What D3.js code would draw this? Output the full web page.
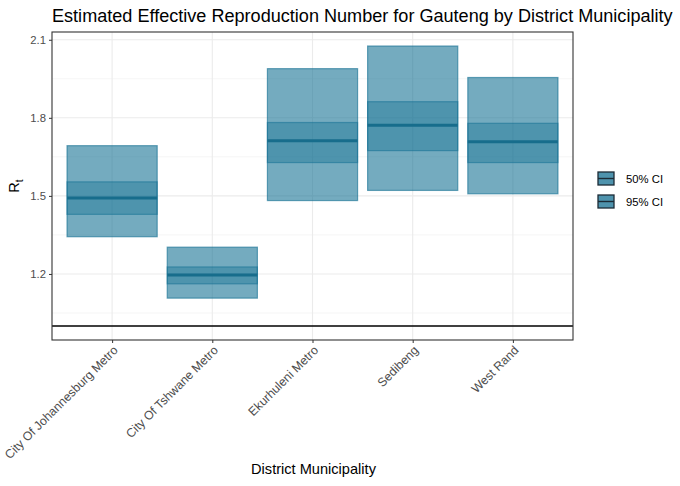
<!DOCTYPE html>
<html><head><meta charset="utf-8">
<script src="https://cdn.jsdelivr.net/npm/d3@7"></script>
<style>body{margin:0;background:#fff;} svg{display:block;font-family:"Liberation Sans",Arial,sans-serif;}</style>
</head><body><svg id="c" width="680" height="486"></svg>
<script>
const categories = ["City Of Johannesburg Metro","City Of Tshwane Metro","Ekurhuleni Metro","Sedibeng","West Rand"];
const median = [1.492, 1.196, 1.712, 1.771, 1.708];
const lower95 = [1.343, 1.107, 1.482, 1.521, 1.508];
const upper95 = [1.693, 1.303, 1.989, 2.076, 1.955];
const lower50 = [1.429, 1.162, 1.628, 1.674, 1.628];
const upper50 = [1.554, 1.227, 1.782, 1.862, 1.779];
const yTicks = [1.2, 1.5, 1.8, 2.1];
const yMinor = [1.05, 1.35, 1.65, 1.95];
const refLine = 1;
const legendLabels = ["50% CI", "95% CI"];

const svg = d3.select("#c");
const L = 52, R = 573, T = 32, B = 340;
const yLo = 1.0, yHi = 2.076, ex = (yHi - yLo) * 0.05;
const y = d3.scaleLinear().domain([yLo - ex, yHi + ex]).range([B, T]);
const xs = d3.scalePoint().domain(categories).range([L + (R - L) * 0.6 / 5.2, R - (R - L) * 0.6 / 5.2]);
const bw = (R - L) / 5.2 * 0.9;

const g = svg.append("g");
yMinor.forEach(v => g.append("line").attr("x1", L).attr("x2", R).attr("y1", y(v)).attr("y2", y(v)).attr("stroke", "#f3f3f3").attr("stroke-width", 0.8));
yTicks.forEach(v => g.append("line").attr("x1", L).attr("x2", R).attr("y1", y(v)).attr("y2", y(v)).attr("stroke", "#ebebeb").attr("stroke-width", 1.1));
categories.forEach(c => g.append("line").attr("x1", xs(c)).attr("x2", xs(c)).attr("y1", T).attr("y2", B).attr("stroke", "#ebebeb").attr("stroke-width", 1.1));

categories.forEach((c, i) => {
  g.append("rect").attr("x", xs(c) - bw / 2).attr("width", bw)
    .attr("y", y(upper95[i])).attr("height", y(lower95[i]) - y(upper95[i]))
    .attr("fill", "rgb(16,110,145)").attr("fill-opacity", 0.58)
    .attr("stroke", "rgb(16,110,145)").attr("stroke-opacity", 0.6).attr("stroke-width", 1.2);
});
categories.forEach((c, i) => {
  g.append("rect").attr("x", xs(c) - bw / 2).attr("width", bw)
    .attr("y", y(upper50[i])).attr("height", y(lower50[i]) - y(upper50[i]))
    .attr("fill", "rgb(16,110,145)").attr("fill-opacity", 0.38)
    .attr("stroke", "rgb(16,110,145)").attr("stroke-opacity", 0.5).attr("stroke-width", 1.2);
});
categories.forEach((c, i) => {
  g.append("line").attr("x1", xs(c) - bw / 2).attr("x2", xs(c) + bw / 2)
    .attr("y1", y(median[i])).attr("y2", y(median[i]))
    .attr("stroke", "#176d8c").attr("stroke-width", 3);
});
g.append("line").attr("x1", L).attr("x2", R).attr("y1", y(refLine)).attr("y2", y(refLine)).attr("stroke", "#000").attr("stroke-width", 1.3);
g.append("rect").attr("x", L).attr("y", T).attr("width", R - L).attr("height", B - T).attr("fill", "none").attr("stroke", "#333333").attr("stroke-width", 1.1);

const ya = svg.append("g").attr("transform", `translate(${L},0)`)
  .call(d3.axisLeft(y).tickValues(yTicks).tickFormat(d3.format(".1f")).tickSize(3).tickPadding(3));
ya.select(".domain").remove();
ya.selectAll("line").attr("stroke", "#333");
ya.selectAll("text").attr("fill", "#4d4d4d").style("font-size", "11.3px").style("font-family", "Liberation Sans, Arial");
const xa = svg.append("g").attr("transform", `translate(0,${B})`)
  .call(d3.axisBottom(xs).tickSize(3).tickPadding(3));
xa.select(".domain").remove();
xa.selectAll("line").attr("stroke", "#333");
xa.selectAll("text").attr("fill", "#4d4d4d").style("font-size", "12.3px").style("font-family", "Liberation Sans, Arial")
  .attr("text-anchor", "end").attr("dy", null).attr("y", 0)
  .attr("transform", "translate(6,11) rotate(-45)");

const title = svg.append("text").attr("x", L).attr("y", 22).attr("fill", "#000")
  .style("font-size", "17px").text("Estimated Effective Reproduction Number for Gauteng by District Municipality");
const tw = title.node().getComputedTextLength();
title.style("font-size", (17 * 621 / tw) + "px");

svg.append("text").attr("x", (L + R) / 2 + 1).attr("y", 474).attr("text-anchor", "middle").style("font-size", "14.6px").text("District Municipality");
const yl = svg.append("text").attr("transform", `translate(19,${(T + B) / 2}) rotate(-90)`).attr("text-anchor", "middle").style("font-size", "14.6px");
yl.append("tspan").text("R");
yl.append("tspan").attr("dy", 4).style("font-size", "10px").text("t");

legendLabels.forEach((lab, i) => {
  const ly = 172 + i * 23;
  const lg = svg.append("g");
  lg.append("rect").attr("x", 598).attr("y", ly).attr("width", 16).attr("height", 13)
    .attr("fill", "#4e93ad").attr("stroke", "#1c2b36").attr("stroke-width", 1.3);
  lg.append("line").attr("x1", 598).attr("x2", 614).attr("y1", ly + 6.5).attr("y2", ly + 6.5).attr("stroke", "#1c2b36").attr("stroke-width", 1.4);
  lg.append("text").attr("x", 626).attr("y", ly + 10.5).style("font-size", "11.3px").attr("fill", "#000").text(lab);
});
</script></body></html>
